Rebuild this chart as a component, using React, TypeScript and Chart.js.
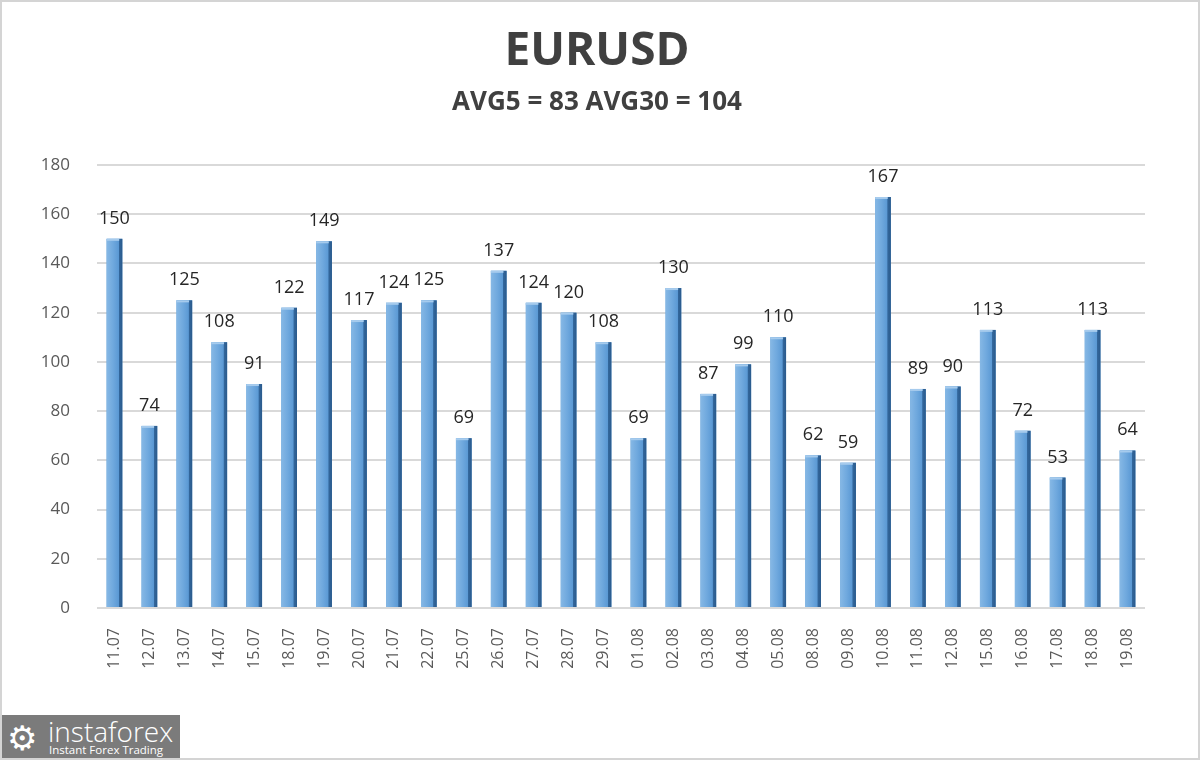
import React, { useEffect, useRef } from "react";
import { Chart, registerables } from "chart.js";

Chart.register(...registerables);

const titleText = "EURUSD";
const subtitleText = "AVG5 = 83 AVG30 = 104";
const categories = [
  "11.07", "12.07", "13.07", "14.07", "15.07", "18.07", "19.07", "20.07", "21.07", "22.07",
  "25.07", "26.07", "27.07", "28.07", "29.07", "01.08", "02.08", "03.08", "04.08", "05.08",
  "08.08", "09.08", "10.08", "11.08", "12.08", "15.08", "16.08", "17.08", "18.08", "19.08",
];
const values = [
  150, 74, 125, 108, 91, 122, 149, 117, 124, 125,
  69, 137, 124, 120, 108, 69, 130, 87, 99, 110,
  62, 59, 167, 89, 90, 113, 72, 53, 113, 64,
];
const yMin = 0;
const yMax = 180;
const yStep = 20;

const titles = {
  id: "titles",
  afterDraw(chart: any) {
    const ctx = chart.ctx;
    const cx = 595;
    ctx.save();
    ctx.fillStyle = "#404040";
    ctx.textAlign = "center";
    ctx.textBaseline = "middle";
    ctx.font = "bold 46px 'Open Sans', sans-serif";
    ctx.fillText(titleText, cx, 50);
    ctx.font = "bold 26px 'Open Sans', sans-serif";
    ctx.fillText(subtitleText, cx, 101);
    ctx.restore();
  },
};

const barDecor = {
  id: "barDecor",
  afterDatasetsDraw(chart: any) {
    const ctx = chart.ctx;
    const meta = chart.getDatasetMeta(0);
    ctx.save();
    meta.data.forEach((bar: any) => {
      const { x, y, base, width } = bar.getProps(["x", "y", "base", "width"], true);
      const left = x - width / 2;
      const g = ctx.createLinearGradient(left, 0, left + width, 0);
      g.addColorStop(0, "#86b8e5");
      g.addColorStop(0.4, "#70a9de");
      g.addColorStop(0.76, "#5b99d4");
      g.addColorStop(0.8, "#33679c");
      g.addColorStop(1, "#2a5a8c");
      ctx.fillStyle = g;
      ctx.fillRect(left, y, width, base - y);
      ctx.fillStyle = "#a6cbed";
      ctx.fillRect(left, y, width * 0.8, 2);
    });
    ctx.restore();
  },
};

const dataLabels = {
  id: "dataLabels",
  afterDatasetsDraw(chart: any) {
    const ctx = chart.ctx;
    const meta = chart.getDatasetMeta(0);
    const data = chart.data.datasets[0].data;
    ctx.save();
    ctx.font = "18px 'Open Sans', sans-serif";
    ctx.fillStyle = "#262626";
    ctx.textAlign = "center";
    ctx.textBaseline = "alphabetic";
    meta.data.forEach((bar: any, i: number) => {
      ctx.fillText(String(data[i]), bar.x, bar.y - 15);
    });
    ctx.restore();
  },
};

export default function App() {
  const ref = useRef<HTMLCanvasElement>(null);
  useEffect(() => {
    document.body.style.margin = "0";
    const chart = new Chart(ref.current!, {
      type: "bar",
      data: {
        labels: categories,
        datasets: [
          {
            data: values,
            backgroundColor: "#5b9bd5",
            borderWidth: 0,
            categoryPercentage: 1,
            barPercentage: 0.45,
          },
        ],
      },
      options: {
        animation: false,
        responsive: false,
        layout: { padding: { top: 163, left: 0, right: 53, bottom: 0 } },
        plugins: {
          legend: { display: false },
          tooltip: { enabled: false },
          title: { display: false },
          subtitle: { display: false },
        },
        scales: {
          x: {
            grid: { display: false, drawTicks: false },
            border: { display: false },
            ticks: {
              color: "#595959",
              font: { family: "'Open Sans', sans-serif", size: 16 },
              maxRotation: 90,
              minRotation: 90,
              padding: 20,
              autoSkip: false,
            },
            afterFit(scale: any) {
              scale.height = 150;
            },
          },
          y: {
            min: yMin,
            max: yMax,
            grid: { color: "#d9d9d9", lineWidth: 2, drawTicks: false },
            border: { display: false },
            ticks: {
              stepSize: yStep,
              color: "#595959",
              font: { family: "'Open Sans', sans-serif", size: 17 },
              padding: 27,
            },
            afterFit(scale: any) {
              scale.width = 95;
            },
          },
        },
      },
      plugins: [barDecor, dataLabels, titles],
    } as any);
    return () => chart.destroy();
  }, []);

  return (
    <div
      style={{
        position: "fixed",
        left: 0,
        top: 0,
        width: 1200,
        height: 760,
        boxSizing: "border-box",
        border: "2px solid #d4d4d4",
        background: "#ffffff",
        overflow: "hidden",
      }}
    >
      <canvas ref={ref} width={1196} height={756} style={{ display: "block" }} />
      <div
        style={{
          position: "absolute",
          left: -2,
          top: 713,
          width: 180,
          height: 46,
          background: "#7b7b7b",
          color: "#ffffff",
          fontFamily: "'Open Sans', sans-serif",
          overflow: "hidden",
        }}
      >
        <div style={{ position: "absolute", left: 7, top: 0, fontSize: 34, lineHeight: "44px" }}>⚙</div>
        <div style={{ position: "absolute", left: 48, top: -2, fontSize: 28, fontWeight: 300, lineHeight: "36px" }}>
          instaforex
        </div>
        <div style={{ position: "absolute", left: 49, top: 28, fontSize: 11.5, lineHeight: "14px" }}>
          Instant Forex Trading
        </div>
      </div>
    </div>
  );
}
